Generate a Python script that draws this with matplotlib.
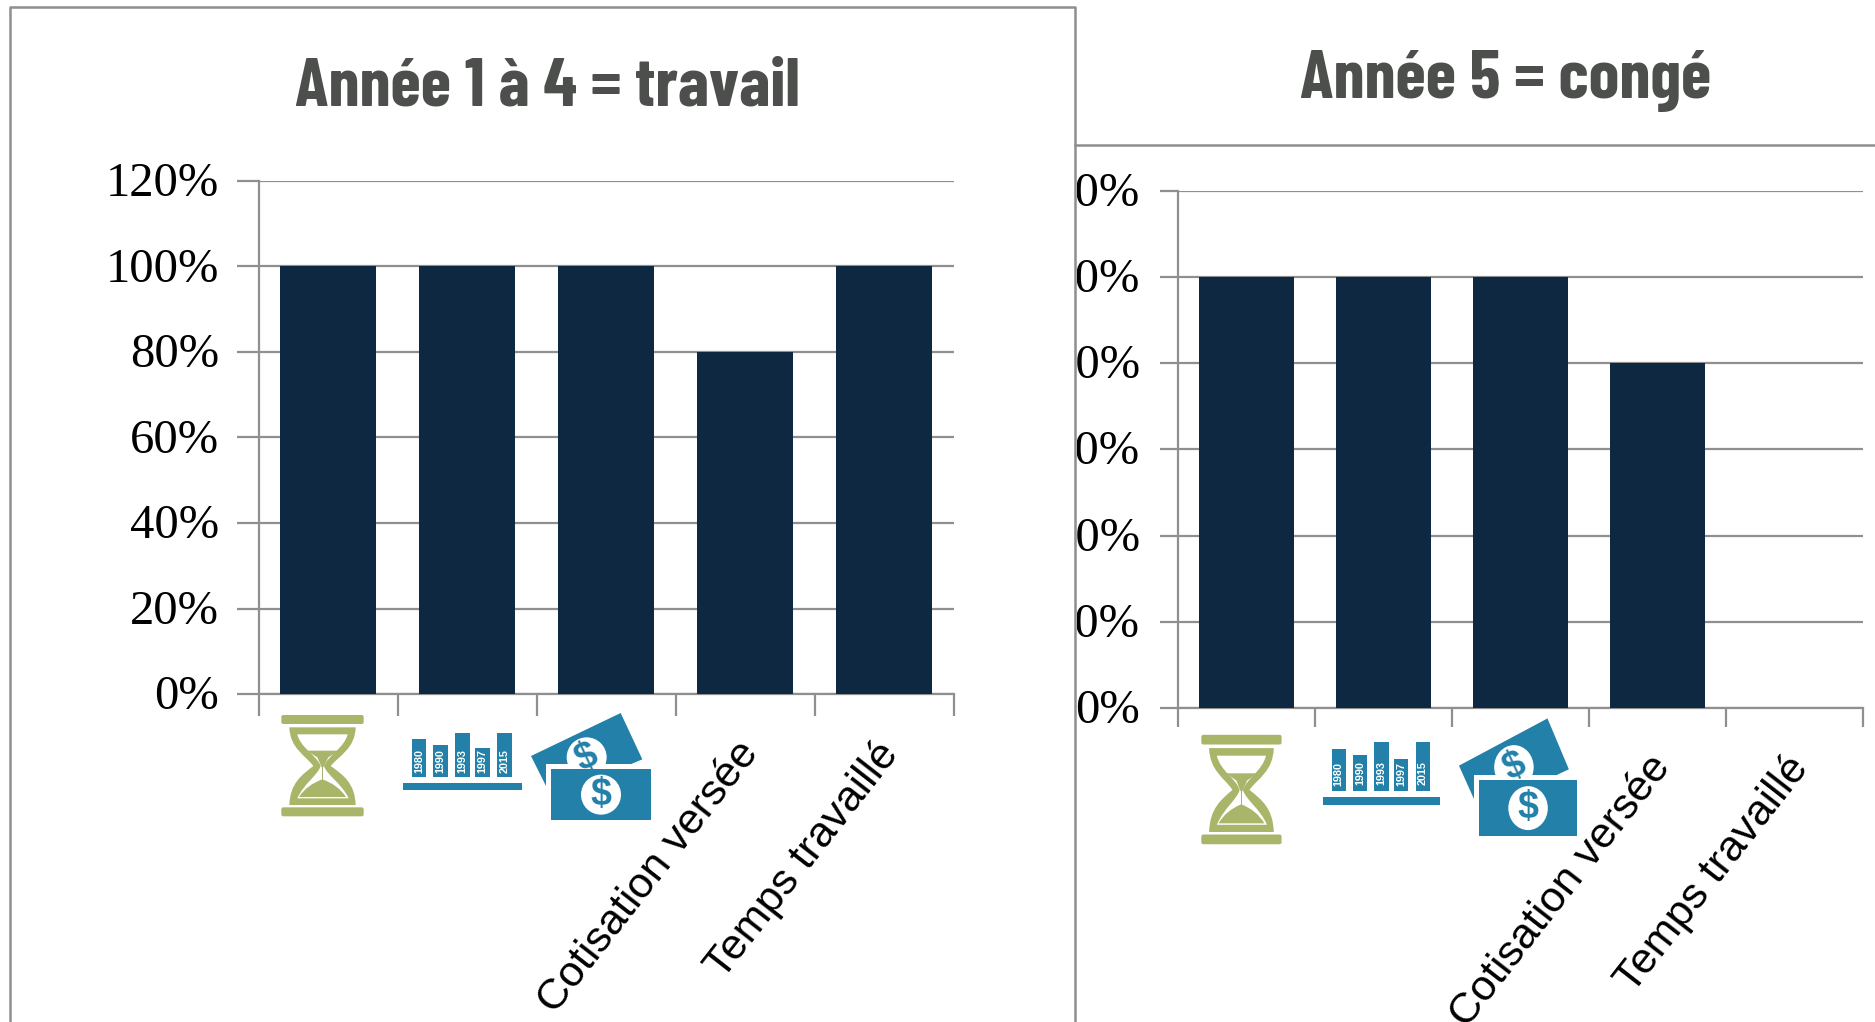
#!/usr/bin/env python
"""Two bar panels (work years vs leave year) with small pictograms under the first bars."""

import matplotlib
matplotlib.use("Agg")
import matplotlib.pyplot as plt
from matplotlib.patches import Circle, FancyBboxPatch, PathPatch, Polygon, Rectangle
from matplotlib.path import Path
from matplotlib.transforms import Affine2D, Bbox, IdentityTransform, TransformedBbox

W, H = 1875, 1022

categories = ["", "", "", "Cotisation versée", "Temps travaillé"]
work_values = [100, 100, 100, 80, 100]
leave_values = [100, 100, 100, 80, 0]
y_ticks = [0, 20, 40, 60, 80, 100, 120]
y_labels = ["0%", "20%", "40%", "60%", "80%", "100%", "120%"]
work_title = "Année 1 à 4 = travail"
leave_title = "Année 5 = congé"
icon_years = ["1980", "1990", "1993", "1997", "2015"]

GREY = "#8f8f8f"
NAVY = "#0f2841"
GREEN = "#a9b568"
BLUE = "#2280a9"
TITLE = "#4d4f4d"


def panel(fig, left, right, top, bottom, values, ticklen_y, ticklen_x, pad_y, pad_x):
    ax = fig.add_axes([left / W, 1 - bottom / H, (right - left) / W, (bottom - top) / H])
    xs = [i + 0.5 for i in range(len(values))]
    ax.bar(xs, values, width=0.69, color=NAVY, zorder=3)
    ax.set_xlim(0, len(values))
    ax.set_ylim(0, 120)
    ax.set_yticks(y_ticks, y_labels, family="Liberation Serif", fontsize=35)
    ax.grid(axis="y", color=GREY, lw=1.6, zorder=1)
    ax.set_axisbelow(True)
    ax.set_xticks(range(len(values) + 1), [""] * (len(values) + 1))
    ax.set_xticks(xs, categories, minor=True, rotation=52, ha="right", va="top",
                  rotation_mode="anchor", family="Liberation Sans", fontsize=31)
    ax.tick_params(axis="x", which="minor", length=0, pad=pad_x)
    ax.tick_params(axis="x", which="major", length=ticklen_x, width=1.6, color=GREY)
    ax.tick_params(axis="y", length=ticklen_y, width=1.6, color=GREY, pad=pad_y)
    for s in ("top", "right"):
        ax.spines[s].set_visible(False)
    for s in ("left", "bottom"):
        ax.spines[s].set_color(GREY)
        ax.spines[s].set_linewidth(1.6)
    # nudge labels, the renderer places them a little off from the source
    for lab in ax.get_yticklabels():
        lab.set_transform(lab.get_transform() + Affine2D().translate(1, 2))
    for lab in ax.get_xticklabels(minor=True):
        lab.set_transform(lab.get_transform() + Affine2D().translate(-10, 0))
    return ax


def place(x0, y0, sx, sy, base):
    # icons are described in zoomed-crop units, this maps them to figure pixels
    return Affine2D().scale(sx, sy).translate(x0, y0) + base


def hourglass(ov, x0, y0, sx, sy):
    tr = place(x0, y0, sx, sy, ov.transData)
    for y in (105, 382):
        ov.add_patch(FancyBboxPatch((70, y + 6), 235, 15, boxstyle="round,pad=6",
                                    fc=GREEN, ec="none", transform=tr))
    M, L, C, Z = Path.MOVETO, Path.LINETO, Path.CURVE4, Path.CLOSEPOLY
    outer = Path([(88, 142), (287, 142),
                  (285, 205), (240, 225), (212, 258),
                  (250, 285), (285, 310), (287, 375),
                  (88, 375),
                  (90, 310), (125, 285), (160, 258),
                  (135, 225), (90, 205), (88, 142), (88, 142)],
                 [M, L, C, C, C, C, C, C, L, C, C, C, C, C, C, Z])
    inner = Path([(112, 163), (263, 163),
                  (252, 205), (205, 225), (192, 258),
                  (200, 285), (245, 310), (266, 355),
                  (112, 355),
                  (132, 310), (174, 285), (182, 258),
                  (170, 225), (122, 205), (112, 163), (112, 163)],
                 [M, L, C, C, C, C, C, C, L, C, C, C, C, C, C, Z])
    ov.add_patch(PathPatch(outer, fc=GREEN, ec="none", transform=tr))
    ov.add_patch(PathPatch(inner, fc="white", ec="none", transform=tr))
    ov.add_patch(Polygon([(140, 212), (235, 212), (205, 232), (190, 262), (185, 262), (172, 232)],
                         fc=GREEN, ec="none", transform=tr))
    ov.add_patch(Rectangle((185, 255), 4, 50, fc=GREEN, ec="none", transform=tr))
    sand = Path([(117, 351), (140, 315), (187, 298), (235, 315), (258, 351), (117, 351)],
                [M, Path.CURVE3, Path.CURVE3, Path.CURVE3, Path.CURVE3, L])
    ov.add_patch(PathPatch(sand, fc=GREEN, ec="none", transform=tr))


def year_bars(ov, x0, y0, sx, sy):
    tr = place(x0, y0, sx, sy, ov.transData)
    ov.add_patch(Rectangle((429, 308), 357, 21, fc=BLUE, ec="none", transform=tr))
    lefts = [455, 520, 585, 645, 711]
    tops = [177, 194, 159, 204, 159]
    for lft, top, yr in zip(lefts, tops, icon_years):
        ov.add_patch(Rectangle((lft, top), 44, 291 - top, fc=BLUE, ec="none", transform=tr))
        px, py = tr.transform((lft + 22, 244))
        ov.text(px, py, yr, color="white", fontsize=7.8, fontweight="bold", rotation=90,
                family="Liberation Sans", ha="center", va="center", transform=IdentityTransform())


def money(ov, x0, y0, sx, sy):
    tr = place(x0, y0, sx, sy, ov.transData)
    ov.add_patch(Polygon([(813, 228), (1082, 99), (1147, 238), (1000, 300), (858, 318)],
                         fc=BLUE, ec="none", transform=tr))
    ov.add_patch(Circle((980, 232), 60, fc="white", ec="none", transform=tr))
    bx, by = tr.transform((980, 232))
    ov.text(bx, by, "$", color=BLUE, fontsize=27, fontweight="bold", rotation=25,
            family="Liberation Sans", ha="center", va="center", transform=IdentityTransform())
    ov.add_patch(Polygon([(858, 253), (1172, 253), (1172, 268), (874, 268), (874, 419), (858, 419)],
                         fc="white", ec="none", transform=tr))
    ov.add_patch(Rectangle((874, 268), 298, 151, fc=BLUE, ec="none", transform=tr))
    ov.add_patch(Circle((1023, 344), 60, fc="white", ec="none", transform=tr))
    fx, fy = tr.transform((1023, 344))
    ov.text(fx, fy, "$", color=BLUE, fontsize=27, fontweight="bold",
            family="Liberation Sans", ha="center", va="center", transform=IdentityTransform())


def main():
    plt.rcParams["font.family"] = ["Liberation Sans", "DejaVu Sans"]
    fig = plt.figure(figsize=(W / 100, H / 100), dpi=100, facecolor="white")

    panel(fig, 258.5, 954, 181, 694, work_values, 16, 16, 13, 29)
    ax2 = panel(fig, 1178, 1863, 191, 708, leave_values, 13, 14, 15, 29)

    # the right panel is pasted over, its y labels get cut by the frame line
    clip = TransformedBbox(Bbox([[1077, 0], [W, H]]), IdentityTransform())
    for lab in ax2.get_yticklabels():
        lab.set_clip_box(clip)
        lab.set_clip_on(True)

    ov = fig.add_axes([0, 0, 1, 1], zorder=5)
    ov.set_xlim(0, W)
    ov.set_ylim(H, 0)
    ov.axis("off")
    ov.patch.set_alpha(0)

    # frame lines
    ov.plot([10, 10, 1075, 1075], [H, 7, 7, H], color=GREY, lw=1.8)
    ov.plot([1075, W], [145, 145], color=GREY, lw=1.8)

    title_kw = dict(family=["Barlow Condensed", "Roboto Condensed", "Liberation Sans"],
                    fontweight="bold", color=TITLE, fontsize=50, ha="center", va="center")
    ov.text(547, 88, work_title, **title_kw)
    ov.text(1506, 81, leave_title, **title_kw)

    hourglass(ov, 260, 680, 1 / 3, 1 / 3)
    year_bars(ov, 260, 680, 1 / 3, 1 / 3)
    money(ov, 260, 680, 1 / 3, 1 / 3)

    hourglass(ov, 1180.5, 697, 0.325, 0.36)
    year_bars(ov, 1182.3, 683, 0.328, 0.371)
    money(ov, 1191.5, 682.2, 0.329, 0.366)

    fig.savefig("out.png", dpi=100)


if __name__ == "__main__":
    main()
